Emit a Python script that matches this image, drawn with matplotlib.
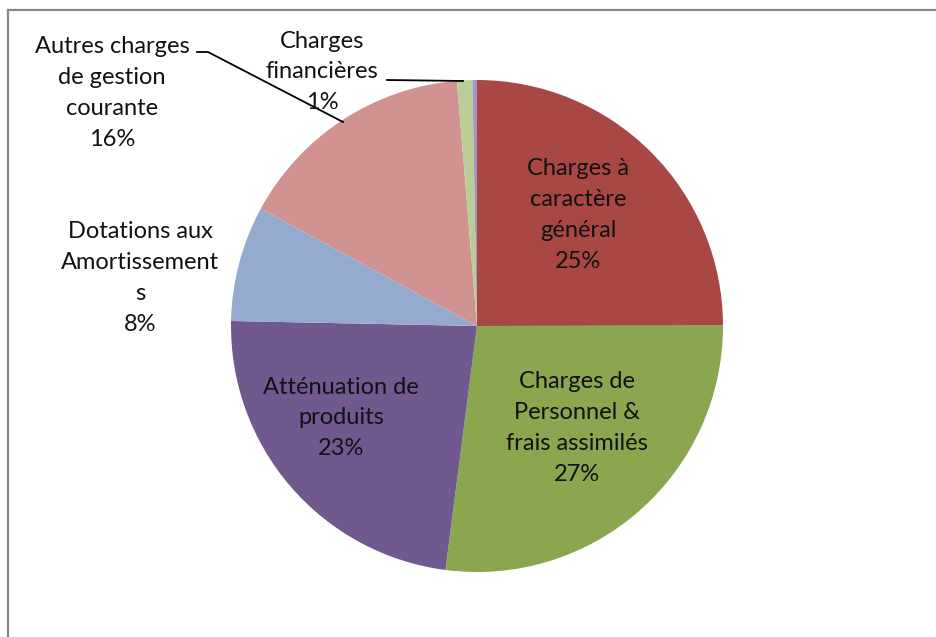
import matplotlib
matplotlib.use("Agg")
import matplotlib.pyplot as plt
from matplotlib.lines import Line2D

#data
labels = ["Charges à\ncaractère\ngénéral", "Charges de\nPersonnel &\nfrais assimilés",
          "Atténuation de\nproduits", "Dotations aux\nAmortissement\ns",
          "Autres charges\nde gestion\ncourante", "Charges\nfinancières", ""]
values = [25.0, 27.1, 23.3, 7.6, 15.8, 1.0, 0.3]
colors = ["#A94745", "#8AA64F", "#71588F", "#94AACF", "#D19392", "#B9CD96", "#A596C0"]

#label positions in pixels (x, y from top)
lpos = [(578, 215), (577, 428), (341, 418), (140, 278), (112, 93), (322, 72), None]

W, H = 936, 637

#_____________________________________________________________________________
def main():

    plt.rcParams["font.family"] = ["Lato", "DejaVu Sans"]

    fig = plt.figure(figsize=(W/100., H/100.), dpi=100)
    ax = fig.add_axes([0, 0, 1, 1])

    ax.pie(values, colors=colors, startangle=90, counterclock=False,
           center=(477, H-326), radius=246, frame=True,
           wedgeprops=dict(linewidth=0))
    ax.set_xlim(0, W)
    ax.set_ylim(0, H)
    ax.set_aspect("equal")
    ax.axis("off")

    tot = sum(values)
    for i in range(len(values)):
        if lpos[i] is None: continue
        txt = labels[i] + "\n" + "{0:.0f}%".format(100*values[i]/tot)
        ax.text(lpos[i][0], H-lpos[i][1], txt, ha="center", va="center",
                fontsize=17, linespacing=1.58, color="#111111")

    #leader lines
    ax.plot([197, 208, 343], [H-52, H-52, H-122], "-", color="black", lw=1.3)
    ax.plot([387, 463], [H-80, H-81], "-", color="black", lw=1.3)

    #chart frame
    fig.add_artist(Line2D([8/W, 8/W], [0, 1-10/H], color="#888888", lw=1.6))
    fig.add_artist(Line2D([8/W, 1], [1-10/H, 1-10/H], color="#888888", lw=1.6))

    fig.savefig("out.png", dpi=100)
    plt.close()

#main

#_____________________________________________________________________________
if __name__ == "__main__":

    main()
